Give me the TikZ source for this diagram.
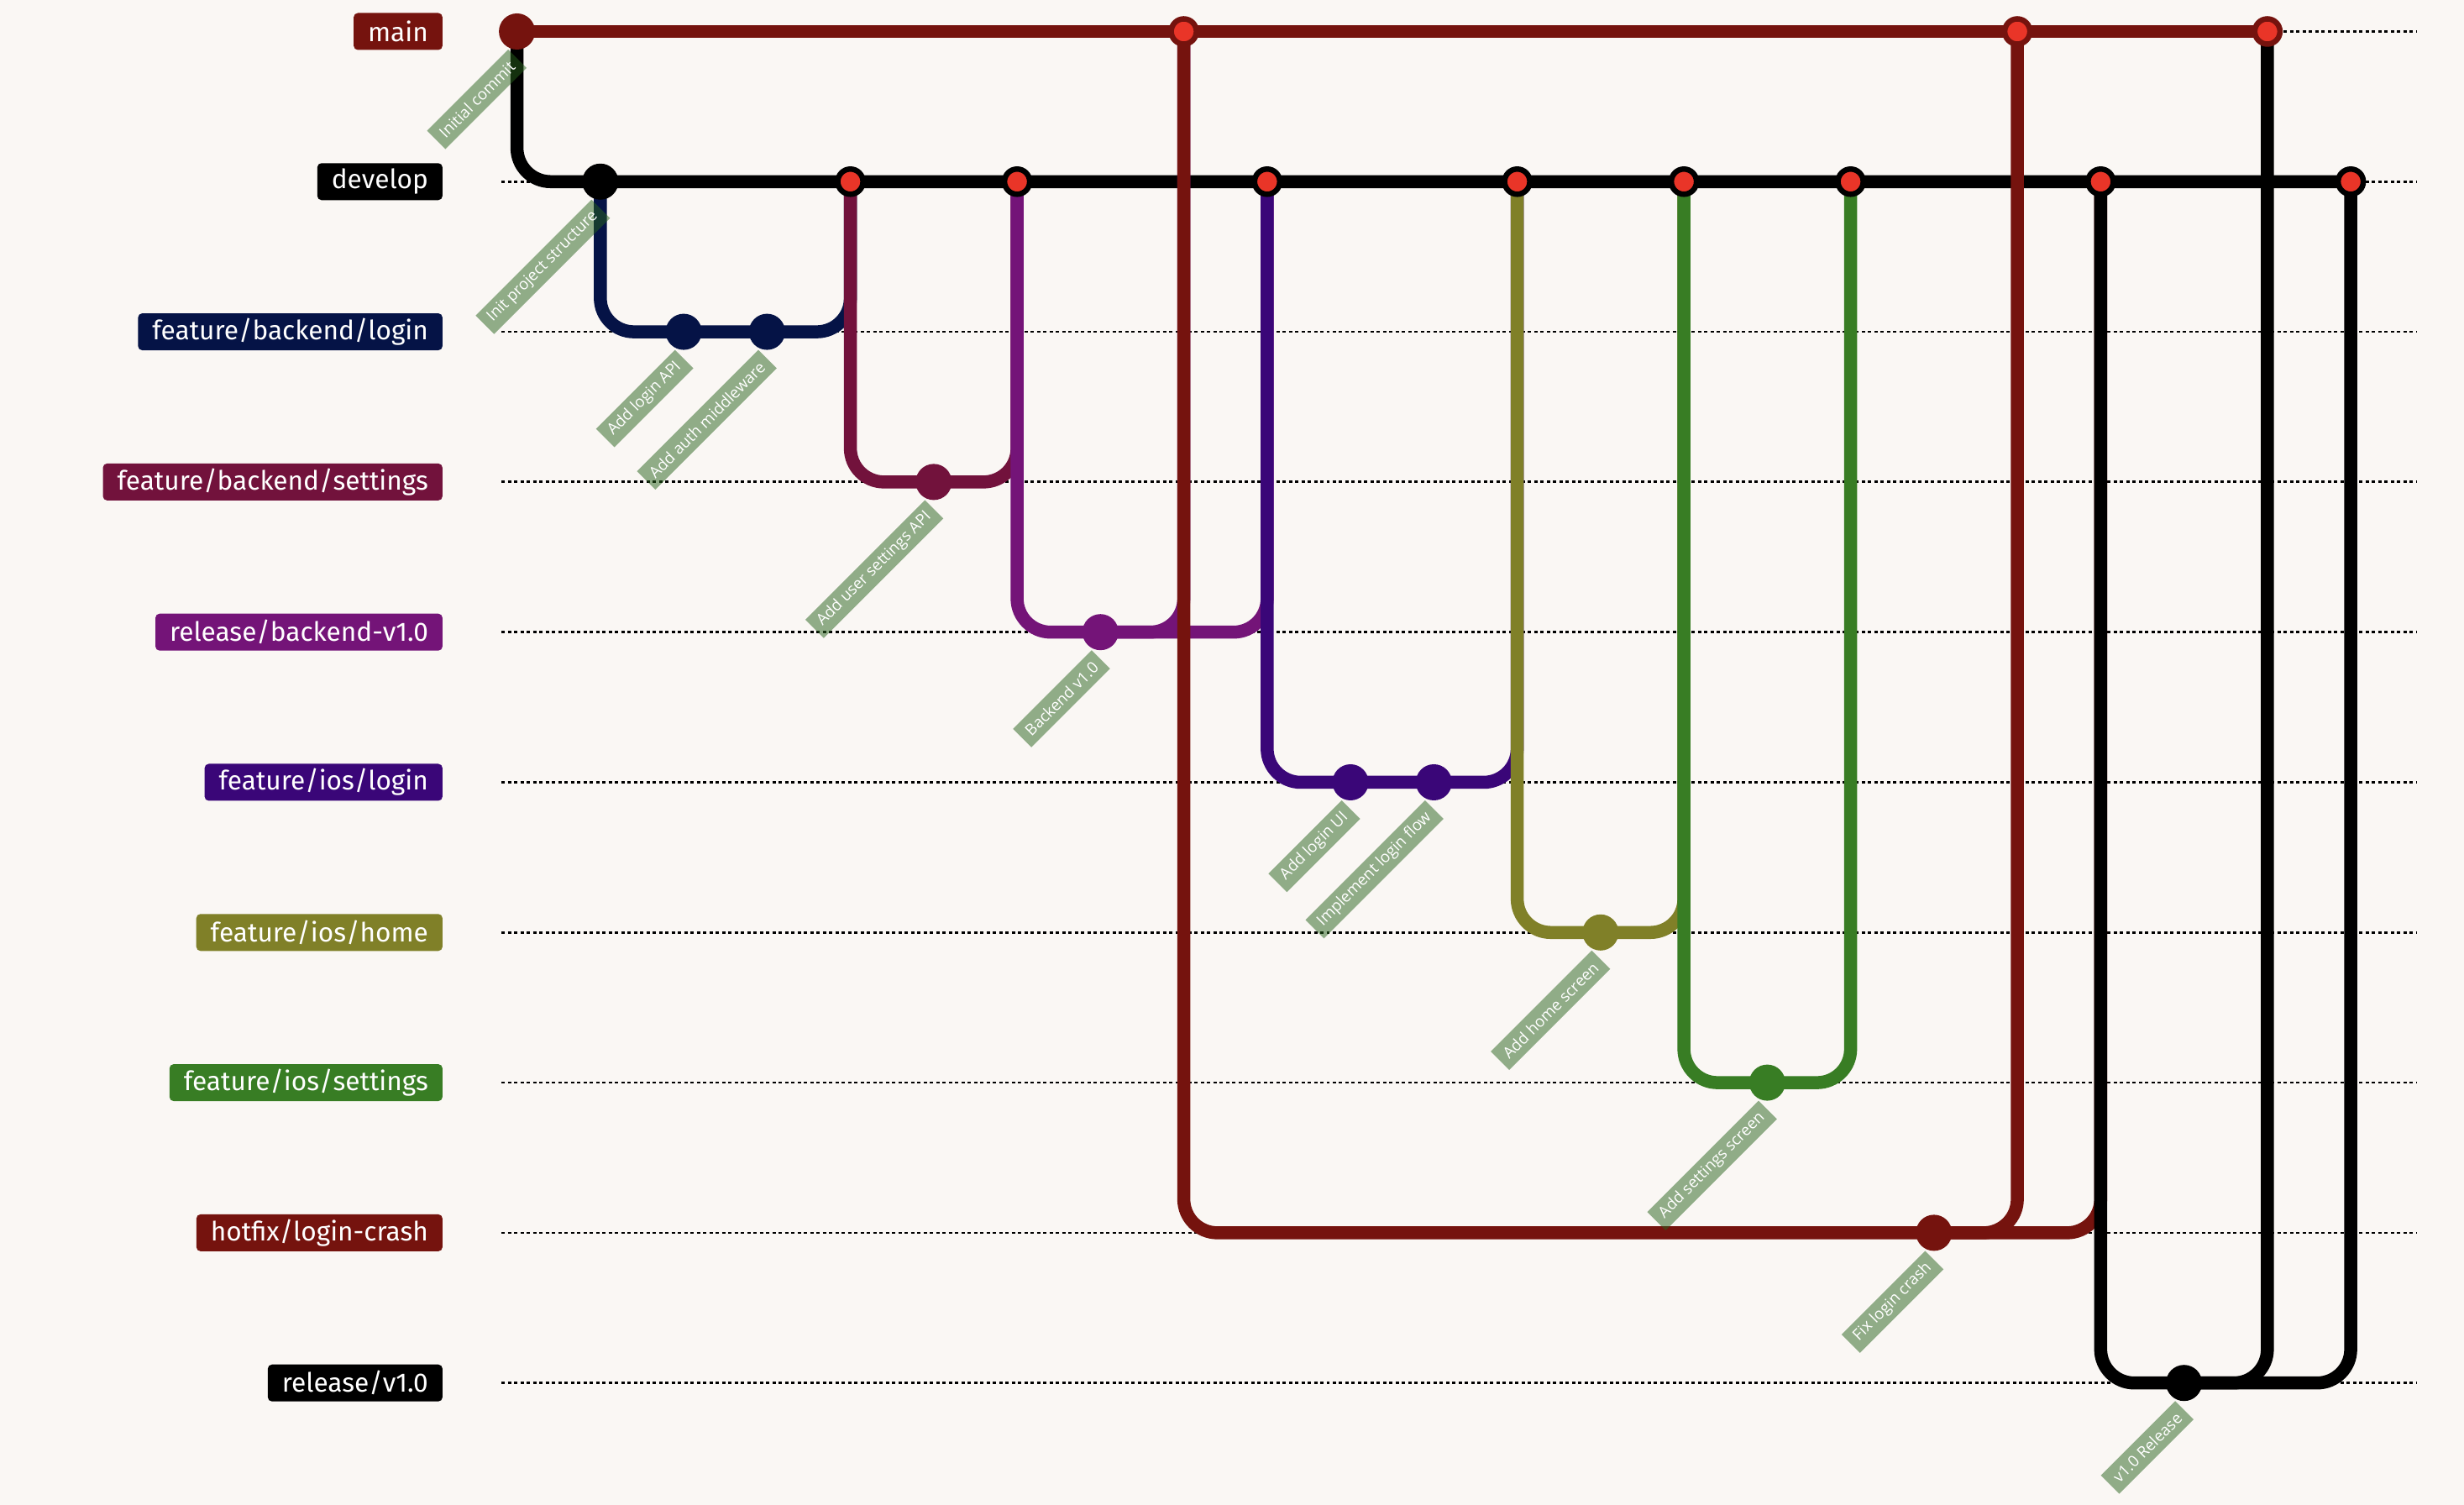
\documentclass[tikz,border=0pt]{standalone}
\usepackage{fontspec}
\usetikzlibrary{positioning}
\newfontfamily\brfont{Fira Sans}
\newfontfamily\cmfont{Open Sans}
\definecolor{pagebg}{RGB}{250,247,244}
\definecolor{cmain}{RGB}{117,19,14}
\definecolor{cfblogin}{RGB}{5,19,70}
\definecolor{cfbset}{RGB}{114,18,60}
\definecolor{crelbk}{RGB}{116,20,120}
\definecolor{ciolog}{RGB}{58,6,120}
\definecolor{ciohome}{RGB}{128,128,40}
\definecolor{cioset}{RGB}{56,125,36}
\definecolor{mrgred}{RGB}{233,53,40}
\definecolor{tagbg}{RGB}{40,98,28}

\pgfdeclarelayer{bg}
\pgfdeclarelayer{lanes}
\pgfdeclarelayer{tags}
\pgfsetlayers{bg,lanes,tags,main}

\tikzset{
  lane/.style={line width=0.155cm,draw=#1,rounded corners=0.4cm},
  guide/.style={line width=0.028cm,dash pattern=on 0.04cm off 0.035cm},
  brlbl/.style={fill=#1,text=white,rounded corners=0.05cm,anchor=east,minimum height=0.44cm,
    inner xsep=0.17cm,inner ysep=0pt,font=\brfont\fontsize{9}{11}\selectfont},
  cmt/.style={circle,inner sep=0pt,minimum size=0.43cm,fill=#1},
  mrg/.style={circle,inner sep=0pt,minimum size=0.30cm,fill=mrgred,draw=#1,line width=0.065cm},
  cmlbl/.style={fill=tagbg,fill opacity=0.5,text opacity=1,text=white,rotate=45,anchor=east,
    inner xsep=0.09cm,inner ysep=0pt,minimum height=0.31cm,font=\cmfont\fontsize{5.3}{6}\selectfont},
}

\begin{document}
\begin{tikzpicture}[x=0.9925cm,y=-1.788cm]
  \begin{pgfonlayer}{bg}
    \fill[pagebg] (-6.2025,-0.2097) rectangle (23.3592,9.8126);
    \foreach \r in {0,...,9}
      \draw[guide] (-0.187,\r) -- (22.795,\r);
  \end{pgfonlayer}
  \useasboundingbox (-6.2025,-0.2097) rectangle (23.3592,9.8126);

  % branch names
  \foreach \r/\nm/\col in {0/main/cmain,1/develop/black,2/feature\slash backend\slash login/cfblogin,
      3/feature\slash backend\slash settings/cfbset,4/release\slash backend-v1.0/crelbk,
      5/feature\slash ios\slash login/ciolog,6/feature\slash ios\slash home/ciohome,
      7/feature\slash ios\slash settings/cioset,8/hotfix\slash login-crash/cmain,9/release\slash v1.0/black}
    \node[brlbl=\col] (lbl\r) at (-0.8866,\r) {\nm};

  % commits
  \node[cmt=cmain] (init) at (0,0) {};
  \node[cmt=black] (proj) at (1,1) {};
  \node[cmt=cfblogin] (loginapi) at (2,2) {};
  \node[cmt=cfblogin] (authmw) at (3,2) {};
  \node[mrg=black] (mergeA) at (4,1) {};
  \node[cmt=cfbset] (usrset) at (5,3) {};
  \node[mrg=black] (mergeB) at (6,1) {};
  \node[cmt=crelbk] (bkend) at (7,4) {};
  \node[mrg=cmain] (mainA) at (8,0) {};
  \node[mrg=black] (mergeC) at (9,1) {};
  \node[cmt=ciolog] (loginui) at (10,5) {};
  \node[cmt=ciolog] (loginflow) at (11,5) {};
  \node[mrg=black] (mergeD) at (12,1) {};
  \node[cmt=ciohome] (homescr) at (13,6) {};
  \node[mrg=black] (mergeE) at (14,1) {};
  \node[cmt=cioset] (setscr) at (15,7) {};
  \node[mrg=black] (mergeF) at (16,1) {};
  \node[cmt=cmain] (fixcrash) at (17,8) {};
  \node[mrg=cmain] (mainB) at (18,0) {};
  \node[mrg=black] (mergeG) at (19,1) {};
  \node[cmt=black] (rel) at (20,9) {};
  \node[mrg=cmain] (mainC) at (21,0) {};
  \node[mrg=black] (mergeH) at (22,1) {};

  \begin{pgfonlayer}{lanes}
    \draw[lane=cmain] (init.center) -- (mainC.center);
    \draw[lane=black] (init.center) |- (mergeH.center);
    \draw[lane=cfblogin] (proj.center) |- (authmw.center) -| (mergeA.center);
    \draw[lane=cfbset] (mergeA.center) |- (usrset.center) -| (mergeB.center);
    \draw[lane=crelbk] (mergeB.center) |- (bkend.center) -| (mergeC.center);
    \draw[lane=crelbk] (bkend.center) -| (mainA.center);
    \draw[lane=ciolog] (mergeC.center) |- (loginflow.center) -| (mergeD.center);
    \draw[lane=ciohome] (mergeD.center) |- (homescr.center) -| (mergeE.center);
    \draw[lane=cioset] (mergeE.center) |- (setscr.center) -| (mergeF.center);
    \draw[lane=cmain] (mainA.center) |- (fixcrash.center) -| (mergeG.center);
    \draw[lane=cmain] (fixcrash.center) -| (mainB.center);
    \draw[lane=black] (mergeG.center) |- (rel.center) -| (mergeH.center);
    \draw[lane=black] (rel.center) -| (mainC.center);
  \end{pgfonlayer}

  % commit messages
  \begin{pgfonlayer}{tags}
    \node[cmlbl] (t-init) at ([xshift=0.01cm,yshift=-0.32cm]init.center) {Initial commit};
    \node[cmlbl] (t-proj) at ([xshift=0.01cm,yshift=-0.32cm]proj.center) {Init project structure};
    \node[cmlbl] (t-loginapi) at ([xshift=0.01cm,yshift=-0.32cm]loginapi.center) {Add login API};
    \node[cmlbl] (t-authmw) at ([xshift=0.01cm,yshift=-0.32cm]authmw.center) {Add auth middleware};
    \node[cmlbl] (t-usrset) at ([xshift=0.01cm,yshift=-0.32cm]usrset.center) {Add user settings API};
    \node[cmlbl] (t-bkend) at ([xshift=0.01cm,yshift=-0.32cm]bkend.center) {Backend v1.0};
    \node[cmlbl] (t-loginui) at ([xshift=0.01cm,yshift=-0.32cm]loginui.center) {Add login UI};
    \node[cmlbl] (t-loginflow) at ([xshift=0.01cm,yshift=-0.32cm]loginflow.center) {Implement login flow};
    \node[cmlbl] (t-homescr) at ([xshift=0.01cm,yshift=-0.32cm]homescr.center) {Add home screen};
    \node[cmlbl] (t-setscr) at ([xshift=0.01cm,yshift=-0.32cm]setscr.center) {Add settings screen};
    \node[cmlbl] (t-fixcrash) at ([xshift=0.01cm,yshift=-0.32cm]fixcrash.center) {Fix login crash};
    \node[cmlbl] (t-rel) at ([xshift=0.01cm,yshift=-0.32cm]rel.center) {v1.0 Release};
  \end{pgfonlayer}
\end{tikzpicture}
\end{document}
